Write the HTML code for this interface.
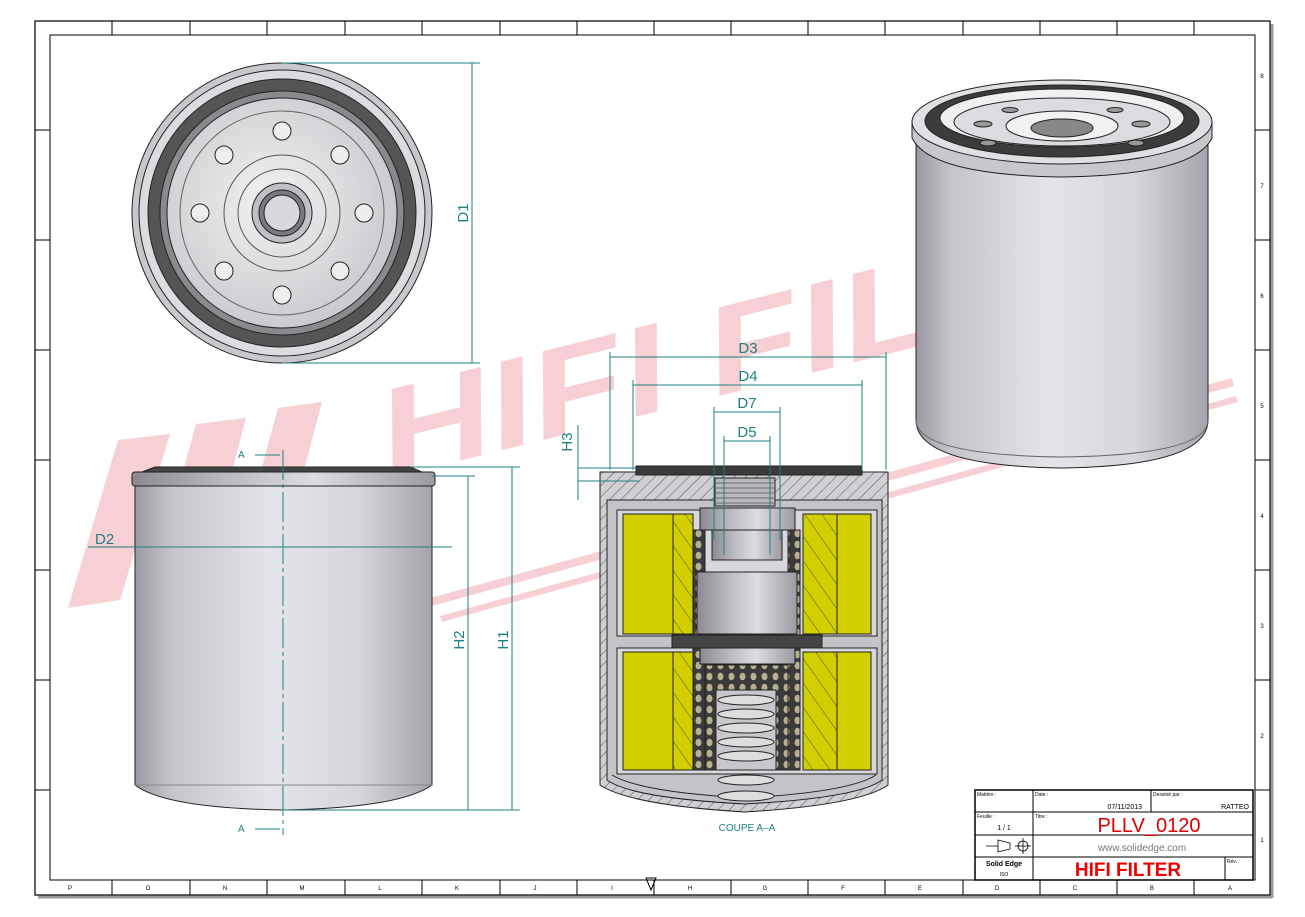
<!DOCTYPE html>
<html><head><meta charset="utf-8"><style>
html,body{margin:0;padding:0;background:#fff;}
svg{display:block;font-family:"Liberation Sans",sans-serif;}
</style></head><body>
<svg width="1305" height="917" viewBox="0 0 1305 917" xmlns="http://www.w3.org/2000/svg">
<defs>
<linearGradient id="cyl" x1="0" x2="1" y1="0" y2="0">
<stop offset="0" stop-color="#9a9aa0"/><stop offset="0.12" stop-color="#c4c4ca"/><stop offset="0.45" stop-color="#e4e4ea"/><stop offset="0.75" stop-color="#d6d6dc"/><stop offset="1" stop-color="#a4a4aa"/>
</linearGradient>
<linearGradient id="cyl2" x1="0" x2="1" y1="0" y2="0">
<stop offset="0" stop-color="#8a8a90"/><stop offset="0.3" stop-color="#b8b8be"/><stop offset="0.6" stop-color="#dcdce2"/><stop offset="1" stop-color="#9a9aa0"/>
</linearGradient>
<radialGradient id="rad" cx="0.45" cy="0.45" r="0.6"><stop offset="0" stop-color="#f2f2f4"/><stop offset="1" stop-color="#c8c8cc"/></radialGradient>
<pattern id="hat" width="8" height="8" patternUnits="userSpaceOnUse" patternTransform="rotate(45)"><rect width="8" height="8" fill="#d0d0d4"/><line x1="0" y1="0" x2="0" y2="8" stroke="#333" stroke-width="0.8"/></pattern>
<pattern id="hatY" width="14" height="14" patternUnits="userSpaceOnUse" patternTransform="rotate(-35)"><rect width="14" height="14" fill="#d2cf00"/><line x1="0" y1="0" x2="0" y2="14" stroke="#333" stroke-width="0.8"/></pattern>
<pattern id="perf" width="11" height="11" patternUnits="userSpaceOnUse"><rect width="11" height="11" fill="#3a3a3a"/><ellipse cx="5.5" cy="5.5" rx="3" ry="3.8" fill="#b8b090"/></pattern>
</defs>

<!-- frame -->
<rect x="35" y="21" width="1235" height="874" fill="#fff" stroke="#000" stroke-width="1.2"/>
<line x1="1272" y1="24" x2="1272" y2="898" stroke="#999" stroke-width="3"/>
<line x1="38" y1="897" x2="1272" y2="897" stroke="#999" stroke-width="3"/>
<rect x="50" y="35" width="1205" height="845" fill="none" stroke="#000" stroke-width="1"/>
<g stroke="#000" stroke-width="1">
<line x1="112" y1="21" x2="112" y2="35"/><line x1="190" y1="21" x2="190" y2="35"/><line x1="267" y1="21" x2="267" y2="35"/><line x1="345" y1="21" x2="345" y2="35"/><line x1="422" y1="21" x2="422" y2="35"/><line x1="500" y1="21" x2="500" y2="35"/><line x1="577" y1="21" x2="577" y2="35"/><line x1="654" y1="21" x2="654" y2="35"/><line x1="731" y1="21" x2="731" y2="35"/><line x1="808" y1="21" x2="808" y2="35"/><line x1="885" y1="21" x2="885" y2="35"/><line x1="963" y1="21" x2="963" y2="35"/><line x1="1040" y1="21" x2="1040" y2="35"/><line x1="1117" y1="21" x2="1117" y2="35"/><line x1="1194" y1="21" x2="1194" y2="35"/>
<line x1="112" y1="880" x2="112" y2="895"/><line x1="190" y1="880" x2="190" y2="895"/><line x1="267" y1="880" x2="267" y2="895"/><line x1="345" y1="880" x2="345" y2="895"/><line x1="422" y1="880" x2="422" y2="895"/><line x1="500" y1="880" x2="500" y2="895"/><line x1="577" y1="880" x2="577" y2="895"/><line x1="654" y1="880" x2="654" y2="895"/><line x1="731" y1="880" x2="731" y2="895"/><line x1="808" y1="880" x2="808" y2="895"/><line x1="885" y1="880" x2="885" y2="895"/><line x1="963" y1="880" x2="963" y2="895"/><line x1="1040" y1="880" x2="1040" y2="895"/><line x1="1117" y1="880" x2="1117" y2="895"/><line x1="1194" y1="880" x2="1194" y2="895"/>
<line x1="35" y1="130" x2="50" y2="130"/><line x1="35" y1="240" x2="50" y2="240"/><line x1="35" y1="350" x2="50" y2="350"/><line x1="35" y1="460" x2="50" y2="460"/><line x1="35" y1="570" x2="50" y2="570"/><line x1="35" y1="680" x2="50" y2="680"/><line x1="35" y1="790" x2="50" y2="790"/>
<line x1="1255" y1="130" x2="1270" y2="130"/><line x1="1255" y1="240" x2="1270" y2="240"/><line x1="1255" y1="350" x2="1270" y2="350"/><line x1="1255" y1="460" x2="1270" y2="460"/><line x1="1255" y1="570" x2="1270" y2="570"/><line x1="1255" y1="680" x2="1270" y2="680"/><line x1="1255" y1="790" x2="1270" y2="790"/>
</g>
<g font-size="6" fill="#000" text-anchor="middle">
<text x="70" y="890">P</text><text x="148" y="890">O</text><text x="225" y="890">N</text><text x="302" y="890">M</text><text x="380" y="890">L</text><text x="457" y="890">K</text><text x="535" y="890">J</text><text x="612" y="890">I</text><text x="690" y="890">H</text><text x="765" y="890">G</text><text x="843" y="890">F</text><text x="920" y="890">E</text><text x="997" y="890">D</text><text x="1075" y="890">C</text><text x="1152" y="890">B</text><text x="1230" y="890">A</text>
<text x="1262" y="78">8</text><text x="1262" y="188">7</text><text x="1262" y="298">6</text><text x="1262" y="408">5</text><text x="1262" y="518">4</text><text x="1262" y="628">3</text><text x="1262" y="738">2</text><text x="1262" y="842">1</text>
</g>
<path d="M646 878 L656 878 L651 890 Z" fill="none" stroke="#000"/>

<!-- watermark -->
<g fill="#f6c8ce" opacity="0.85">
<text transform="translate(390,478) rotate(-14)" font-size="125" font-weight="bold" font-style="italic" font-family="Liberation Sans,sans-serif" textLength="570" lengthAdjust="spacingAndGlyphs">HIFI FIL</text>
<path d="M68 608 L118 440 L170 434 L120 600 Z M150 592 L196 424 L246 418 L202 584 Z M232 576 L278 408 L322 402 L278 568 Z"/>
<path d="M430 598 L1232 378 L1234 386 L432 606 Z"/>
<path d="M440 616 L1236 396 L1238 402 L442 622 Z"/>
</g>

<!-- top view -->
<g stroke="#222" stroke-width="1">
<circle cx="282" cy="213" r="150" fill="#c8c8cc"/>
<circle cx="282" cy="213" r="143" fill="#dcdce0"/>
<circle cx="282" cy="213" r="134" fill="#555"/>
<circle cx="282" cy="213" r="122" fill="#8a8a8e"/>
<circle cx="282" cy="213" r="115" fill="url(#rad)"/>
<circle cx="282" cy="213" r="102" fill="none" stroke="#666"/>
<circle cx="282" cy="213" r="58" fill="none" stroke="#555"/>
<circle cx="282" cy="213" r="44" fill="none" stroke="#555"/>
<circle cx="282" cy="213" r="30" fill="#c0c0c4"/>
<circle cx="282" cy="213" r="23" fill="#7a7a7e"/>
<circle cx="282" cy="213" r="18" fill="#d8d8dc"/>
<circle cx="282" cy="131" r="9" fill="#eee"/><circle cx="282" cy="295" r="9" fill="#eee"/>
<circle cx="200" cy="213" r="9" fill="#eee"/><circle cx="364" cy="213" r="9" fill="#eee"/>
<circle cx="224" cy="155" r="9" fill="#eee"/><circle cx="340" cy="155" r="9" fill="#eee"/>
<circle cx="224" cy="271" r="9" fill="#eee"/><circle cx="340" cy="271" r="9" fill="#eee"/>
</g>
<g stroke="#1f8080" stroke-width="1" fill="none">
<line x1="282" y1="63" x2="480" y2="63"/><line x1="282" y1="363" x2="480" y2="363"/><line x1="472" y1="63" x2="472" y2="363"/>
</g>
<text x="472" y="213" font-size="15" fill="#1f8080" transform="rotate(-90 472 213)" text-anchor="middle" dy="-4">D1</text>

<!-- side view -->
<g stroke="#222" stroke-width="1">
<path d="M135 485 L432 485 L432 785 Q400 808 282 810 Q165 808 135 785 Z" fill="url(#cyl)"/>
<path d="M155 467 L410 467 L422 472 L142 472 Z" fill="#444"/>
<rect x="132" y="472" width="303" height="14" rx="3" fill="url(#cyl2)"/>
<line x1="135" y1="785" x2="432" y2="785" stroke="#888"/>
</g>
<g stroke="#1f8080" stroke-width="1" fill="none">
<line x1="283" y1="450" x2="283" y2="835" stroke-dasharray="30 4 4 4"/>
<line x1="255" y1="455" x2="280" y2="455"/><line x1="255" y1="829" x2="280" y2="829"/>
<line x1="88" y1="547" x2="452" y2="547"/>
<line x1="410" y1="467" x2="520" y2="467"/><line x1="432" y1="476" x2="475" y2="476"/>
<line x1="282" y1="810" x2="520" y2="810"/>
<line x1="468" y1="476" x2="468" y2="810"/><line x1="512" y1="467" x2="512" y2="810"/>
</g>
<g fill="#1f8080" font-size="15"><text x="95" y="544">D2</text>
<text x="238" y="458" font-size="10">A</text><text x="238" y="832" font-size="10">A</text>
<text x="468" y="640" transform="rotate(-90 468 640)" text-anchor="middle" dy="-4">H2</text>
<text x="512" y="640" transform="rotate(-90 512 640)" text-anchor="middle" dy="-4">H1</text></g>

<!-- 3D view -->
<g stroke="#222" stroke-width="1">
<path d="M916 125 L916 420 Q916 466 1062 468 Q1208 466 1208 420 L1208 125 Z" fill="url(#cyl)"/>
<path d="M916 420 Q916 455 1062 457 Q1208 455 1208 420" fill="none" stroke="#666"/>
<path d="M912 122 L912 138 Q930 175 1062 177 Q1194 175 1212 138 L1212 122 Z" fill="#c8c8cc"/>
<ellipse cx="1062" cy="122" rx="150" ry="42" fill="#e0e0e4"/>
<ellipse cx="1062" cy="121" rx="137" ry="36" fill="#3c3c3c"/>
<ellipse cx="1062" cy="118" rx="122" ry="29" fill="#f0f0f2"/>
<ellipse cx="1062" cy="122" rx="108" ry="24" fill="#dcdce0"/>
<ellipse cx="1062" cy="126" rx="56" ry="15" fill="#f2f2f4"/>
<ellipse cx="1062" cy="128" rx="31" ry="9" fill="#888"/>
<ellipse cx="983" cy="124" rx="9" ry="3" fill="#999"/><ellipse cx="1141" cy="124" rx="9" ry="3" fill="#999"/>
<ellipse cx="1010" cy="110" rx="8" ry="2.5" fill="#999"/><ellipse cx="1115" cy="110" rx="8" ry="2.5" fill="#999"/>
<ellipse cx="988" cy="143" rx="8" ry="3" fill="#999"/><ellipse cx="1136" cy="143" rx="8" ry="3" fill="#999"/>
</g>

<!-- section view -->
<g stroke="#222" stroke-width="1">
<path d="M600 472 L888 472 L888 785 Q860 805 745 812 Q630 805 600 785 Z" fill="url(#hat)"/>
<path d="M607 500 L882 500 L882 780 Q858 798 745 804 Q632 798 607 780 Z" fill="#c4c4c8"/>
<path d="M612 775 Q640 792 745 798 Q850 792 876 775" fill="none"/>
<rect x="636" y="466" width="226" height="9" fill="#3a3a3a"/>
<rect x="715" y="478" width="60" height="28" fill="#b8b8bc"/>
<g stroke="#555" stroke-width="0.8"><line x1="716" y1="483" x2="774" y2="483"/><line x1="716" y1="488" x2="774" y2="488"/><line x1="716" y1="493" x2="774" y2="493"/><line x1="716" y1="498" x2="774" y2="498"/><line x1="716" y1="503" x2="774" y2="503"/></g>
<rect x="617" y="510" width="260" height="126" fill="#d8d8dc"/>
<rect x="617" y="648" width="260" height="126" fill="#d8d8dc"/>
<rect x="623" y="514" width="50" height="120" fill="#d2cf00"/><rect x="673" y="514" width="20" height="120" fill="url(#hatY)"/>
<rect x="837" y="514" width="34" height="120" fill="#d2cf00"/><rect x="803" y="514" width="34" height="120" fill="url(#hatY)"/>
<rect x="623" y="652" width="50" height="118" fill="#d2cf00"/><rect x="673" y="652" width="20" height="118" fill="url(#hatY)"/>
<rect x="837" y="652" width="34" height="118" fill="#d2cf00"/><rect x="803" y="652" width="34" height="118" fill="url(#hatY)"/>
<rect x="693" y="530" width="12" height="240" fill="url(#perf)"/><rect x="788" y="530" width="12" height="240" fill="url(#perf)"/>
<rect x="705" y="665" width="83" height="105" fill="url(#perf)"/>
<rect x="700" y="508" width="95" height="22" fill="url(#cyl2)"/>
<rect x="712" y="530" width="70" height="30" fill="url(#cyl2)"/>
<rect x="697" y="572" width="100" height="62" fill="url(#cyl2)"/>
<rect x="672" y="635" width="150" height="13" fill="#444"/>
<rect x="700" y="648" width="95" height="16" fill="url(#cyl2)"/>
<rect x="716" y="690" width="60" height="80" fill="#c8c8cc"/>
<g fill="#ddd"><ellipse cx="746" cy="700" rx="28" ry="5"/><ellipse cx="746" cy="714" rx="28" ry="5"/><ellipse cx="746" cy="728" rx="28" ry="5"/><ellipse cx="746" cy="742" rx="28" ry="5"/><ellipse cx="746" cy="756" rx="28" ry="5"/><ellipse cx="746" cy="780" rx="28" ry="5"/><ellipse cx="746" cy="796" rx="28" ry="5"/></g>
</g>
<g stroke="#1f8080" stroke-width="1" fill="none">
<line x1="610" y1="352" x2="610" y2="470"/><line x1="886" y1="352" x2="886" y2="470"/><line x1="610" y1="357" x2="886" y2="357"/>
<line x1="633" y1="380" x2="633" y2="470"/><line x1="862" y1="380" x2="862" y2="470"/><line x1="633" y1="385" x2="862" y2="385"/>
<line x1="714" y1="407" x2="714" y2="540"/><line x1="780" y1="407" x2="780" y2="540"/><line x1="714" y1="412" x2="780" y2="412"/>
<line x1="724" y1="436" x2="724" y2="555"/><line x1="770" y1="436" x2="770" y2="555"/><line x1="724" y1="441" x2="770" y2="441"/>
<line x1="578" y1="468" x2="636" y2="468"/><line x1="578" y1="481" x2="640" y2="481"/><line x1="578" y1="425" x2="578" y2="500"/>
</g>
<g fill="#1f8080" font-size="15" text-anchor="middle">
<text x="748" y="353">D3</text><text x="748" y="381">D4</text><text x="747" y="408">D7</text><text x="747" y="437">D5</text>
<text x="572" y="442" transform="rotate(-90 572 442)">H3</text>
<text x="747" y="831" font-size="10">COUPE A–A</text>
</g>

<!-- title block -->
<g stroke="#000" stroke-width="1" fill="none">
<rect x="975" y="790" width="278" height="90" stroke-width="1.5"/>
<line x1="1033" y1="790" x2="1033" y2="880"/>
<line x1="975" y1="812" x2="1253" y2="812"/><line x1="975" y1="835" x2="1253" y2="835"/><line x1="975" y1="857" x2="1253" y2="857"/>
<line x1="1151" y1="790" x2="1151" y2="812"/><line x1="1225" y1="857" x2="1225" y2="880"/>
</g>
<g font-size="5" fill="#000"><text x="977" y="796">Matière :</text><text x="1035" y="796">Date :</text><text x="1153" y="796">Dessiné par :</text><text x="977" y="818">Feuille :</text><text x="1035" y="818">Titre :</text><text x="1227" y="863">Rév. :</text></g>
<text x="1142" y="809" font-size="7" text-anchor="end">07/11/2013</text>
<text x="1249" y="809" font-size="7" text-anchor="end">RATTEO</text>
<text x="1004" y="830" font-size="7" text-anchor="middle">1 / 1</text>
<text x="1149" y="832" font-size="20" fill="#d00" text-anchor="middle">PLLV_0120</text>
<text x="1142" y="851" font-size="10" fill="#777" text-anchor="middle">www.solidedge.com</text>
<text x="1128" y="876" font-size="19" font-weight="bold" fill="#e00" text-anchor="middle">HIFI FILTER</text>
<text x="1004" y="866" font-size="7" font-weight="bold" text-anchor="middle">Solid Edge</text>
<text x="1004" y="876" font-size="5" text-anchor="middle">ISO</text>
<g stroke="#000" fill="none" stroke-width="0.8"><path d="M986 846 L998 846 L998 840 L1010 843 L1010 849 L998 852 L998 846"/><circle cx="1023" cy="846" r="5"/><line x1="1015" y1="846" x2="1031" y2="846"/><line x1="1023" y1="838" x2="1023" y2="854"/></g>
</svg>
</body></html>
